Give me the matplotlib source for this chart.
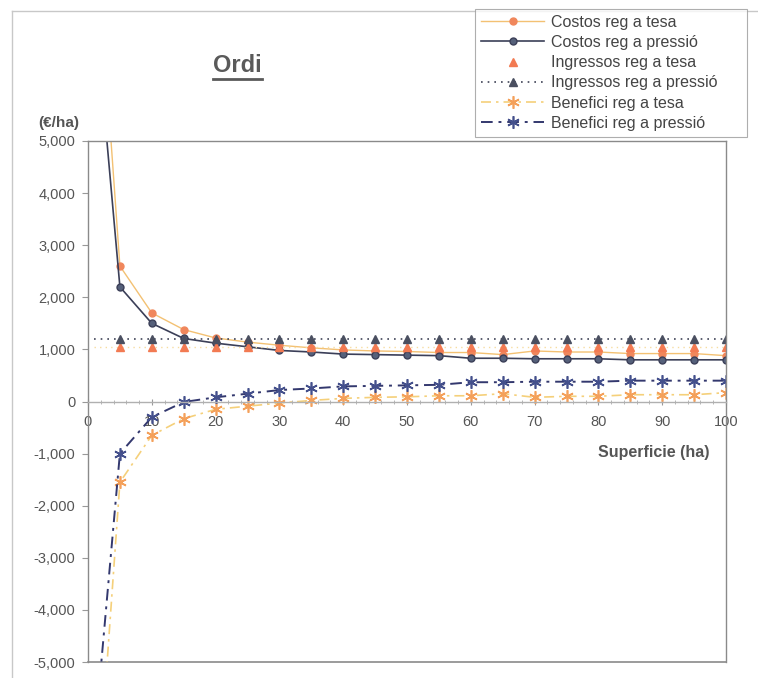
import matplotlib
matplotlib.use('Agg')
import matplotlib.pyplot as plt
from matplotlib.lines import Line2D
from matplotlib.ticker import FuncFormatter, MultipleLocator

plt.rcParams['font.family'] = ['Liberation Sans', 'DejaVu Sans']

# superficie (ha)
superficie = [1, 5, 10, 15, 20, 25, 30, 35, 40, 45, 50, 55, 60, 65, 70, 75, 80, 85, 90, 95, 100]

# costs (EUR/ha)
costos_tesa = [9500, 2600, 1700, 1380, 1220, 1140, 1080, 1030, 990, 970, 960, 940, 940,
               900, 970, 950, 950, 920, 920, 920, 880]
costos_pressio = [7700, 2200, 1500, 1210, 1120, 1050, 980, 950, 910, 900, 890, 880, 830,
                  830, 820, 820, 820, 800, 800, 800, 800]

# income (EUR/ha)
ingressos_tesa = [1050] * 21
ingressos_pressio = [1200] * 21

# profit (EUR/ha)
benefici_tesa = [-8450, -1550, -650, -330, -150, -90, -30, 20, 60, 80, 90, 110, 110,
                 150, 80, 100, 100, 130, 130, 130, 170]
benefici_pressio = [-6500, -1000, -300, -10, 80, 150, 220, 250, 290, 300, 310, 320, 370,
                    370, 380, 380, 380, 400, 400, 400, 400]

W, H = 758, 678
fig = plt.figure(figsize=(W / 100, H / 100), dpi=100)
ax = fig.add_axes([88 / W, (H - 662) / H, 638 / W, 521 / H])

mk = slice(1, None)  # first point is off the chart
asterisk = (6, 2, 0)

ax.plot(superficie, costos_tesa, color='#f3c173', lw=1.0, marker='o', ms=5,
        mfc='#f0875c', mec='#f0875c', markevery=mk, label='Costos reg a tesa')
ax.plot(superficie, costos_pressio, color='#3b3f58', lw=1.2, marker='o', ms=5,
        mfc='#55607a', mec='#3b3f58', markevery=mk, label='Costos reg a pressió')
ax.plot(superficie, ingressos_tesa, color='#f7dca0', lw=1.0, ls=(0, (1, 3)))
ax.plot(superficie[1:], ingressos_tesa[1:], ls='none', marker='^', ms=6,
        mfc='#f27a52', mec='#f27a52', label='Ingressos reg a tesa')
ax.plot(superficie, ingressos_pressio, color='#3e4356', lw=1.2, ls=(0, (1, 3)),
        marker='^', ms=6, mfc='#4a4f60', mec='#4a4f60', markevery=mk,
        label='Ingressos reg a pressió')
ax.plot(superficie, benefici_tesa, color='#f5d07a', lw=1.2, ls=(0, (6, 3, 1.5, 3)),
        marker=asterisk, ms=9, mec='#f4a05a', mew=1.2, markevery=mk,
        label='Benefici reg a tesa')
ax.plot(superficie, benefici_pressio, color='#33386e', lw=1.4, ls=(0, (6, 3, 1.5, 3)),
        marker=asterisk, ms=9, mec='#44508c', mew=1.2, markevery=mk,
        label='Benefici reg a pressió')

ax.set_xlim(0, 100)
ax.set_ylim(-5000, 5000)

# x axis sits on the zero line, box is closed by a line at the bottom
for s in ax.spines.values():
    s.set_color('#8a8a8a')
    s.set_linewidth(1.0)
ax.spines['bottom'].set_position(('data', 0))
ax.spines['bottom'].set_color('#b0b0b0')
ax.axhline(-5000, color='#8a8a8a', lw=1.2, clip_on=False, zorder=0)

ax.xaxis.set_major_locator(MultipleLocator(10))
ax.xaxis.set_minor_locator(MultipleLocator(2))
ax.yaxis.set_major_locator(MultipleLocator(1000))
ax.yaxis.set_major_formatter(FuncFormatter(lambda v, p: f'{int(v):,}'))
ax.tick_params(axis='x', which='major', direction='inout', length=5, color='#999999',
               labelsize=10.5, labelcolor='#555555', pad=7)
ax.tick_params(axis='x', which='minor', direction='inout', length=3, color='#aaaaaa')
ax.tick_params(axis='y', direction='out', length=4, color='#999999',
               labelsize=10.5, labelcolor='#555555', pad=5)

fig.text(59 / W, 1 - 123 / H, '(€/ha)', ha='center', va='center', fontsize=11,
         fontweight='bold', color='#555555')
fig.text(654 / W, 1 - 452 / H, 'Superficie (ha)', ha='center', va='center', fontsize=11.5,
         fontweight='bold', color='#555555')

fig.text(237 / W, 1 - 66 / H, 'Ordi', ha='center', va='center', fontsize=17,
         fontweight='bold', color='#5a5a5a')
fig.add_artist(Line2D([213 / W, 262 / W], [1 - 79 / H, 1 - 79 / H], color='#5a5a5a', lw=2))

# scanned page frame
fig.add_artist(Line2D([12 / W, 12 / W], [0, 1 - 11 / H], color='#c8c8c8', lw=1))
fig.add_artist(Line2D([12 / W, 1], [1 - 11 / H, 1 - 11 / H], color='#c8c8c8', lw=1))

leg = fig.legend(loc='upper left', bbox_to_anchor=(475 / W, 1 - 133 / H, 272 / W, 124 / H),
                 mode='expand', borderaxespad=0,
                 fontsize=11.5, handlelength=4.0, labelspacing=0.33, handletextpad=0.4,
                 frameon=True, fancybox=False, borderpad=0.35)
leg.get_frame().set_edgecolor('#9a9a9a')
leg.get_frame().set_linewidth(0.8)
for t in leg.get_texts():
    t.set_color('#444444')

fig.savefig('out.png', dpi=100)
